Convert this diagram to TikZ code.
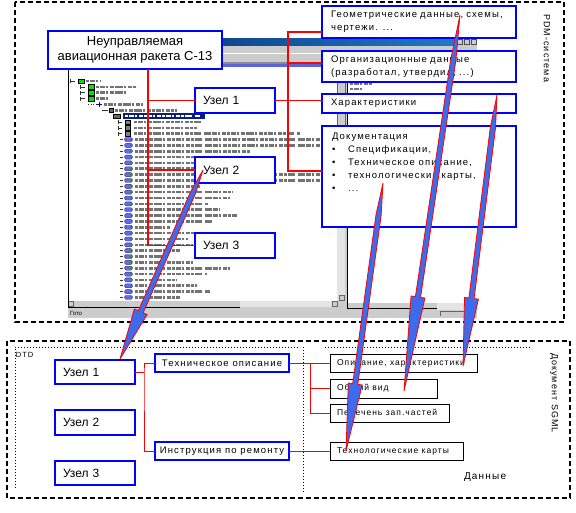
\documentclass[tikz,border=0pt]{standalone}
\usepackage{fontspec}
\setmainfont{Liberation Sans}
\newfontfamily\boxfont[LetterSpace=12]{Liberation Sans}
\usepackage{tikz}
\usetikzlibrary{calc,positioning}
\definecolor{boxBlue}{HTML}{0000FF}
\definecolor{linkRed}{HTML}{FF0000}
\definecolor{boltBlue}{HTML}{3E6BEB}
\definecolor{winGray}{HTML}{CCCCCC}
\definecolor{checkGray}{HTML}{E4E4E4}
\definecolor{titleNavy}{HTML}{08246B}
\definecolor{titleTeal}{HTML}{1E7BC4}
\definecolor{barBlue}{HTML}{5A64DC}
\definecolor{selNavy}{HTML}{0A1F80}
\newcommand{\boltarrow}[2]{%
  \filldraw[bolt] (#1)
    -- ($(#1)!0.12!(#2)!2.6pt!90:(#2)$)
    -- ($(#1)!0.75!(#2)!2.6pt!90:(#2)$)
    -- ($(#1)!0.75!(#2)!7pt!90:(#2)$)
    -- (#2)
    -- ($(#1)!0.75!(#2)!7pt!-90:(#2)$)
    -- ($(#1)!0.75!(#2)!2.6pt!-90:(#2)$)
    -- ($(#1)!0.12!(#2)!2.6pt!-90:(#2)$)
    -- cycle;}
\begin{document}
\begin{tikzpicture}[
    x=1pt, y=-1pt,
    every node/.style={inner sep=0pt, outer sep=0pt, font=\boxfont\fontsize{9.5}{13}\selectfont},
    bluebox/.style={draw=boxBlue, line width=2pt, fill=white},
    uzel/.style={bluebox, anchor=north west, text width=64pt, inner xsep=8pt, minimum height=25pt, align=left, font=\rmfamily\fontsize{12}{14}\selectfont},
    infobox/.style={bluebox, anchor=north west, text width=176pt, inner xsep=9pt, align=left},
    datbox/.style={draw=black, line width=1pt, fill=white, anchor=north west, inner xsep=7pt, minimum height=18pt, font=\boxfont\fontsize{8.5}{10}\selectfont},
    dtdbox/.style={bluebox, anchor=north west, minimum width=134pt, minimum height=18pt},
    link/.style={draw=linkRed, line width=1.6pt},
    thinlink/.style={draw=linkRed, line width=1pt},
    bolt/.style={fill=boltBlue, draw=linkRed, line width=0.8pt, line join=round},
    pdmframe/.style={draw=black, line width=1.5pt, dash pattern=on 5pt off 3pt},
    zone/.style={draw=black, line width=1pt, dash pattern=on 1pt off 2pt},
    faketext/.style={draw=black!55, line width=2.6pt, dash pattern=on 3pt off .8pt on 5pt off .8pt on 2pt off 2.2pt on 4pt off .8pt},
    treeln/.style={draw=black!80, line width=.6pt}
  ]
  \useasboundingbox[fill=white] (0,0) rectangle (576,512);

  %% screenshot of the PDM client window
  \fill[winGray] (68,38) rectangle (477,318);
  \shade[left color=titleNavy, right color=titleTeal] (68,38) rectangle (456,45);
  \foreach \bx in {457,464,471}
    \filldraw[fill=winGray, draw=black!70, line width=.4pt] (\bx,39.5) rectangle (\bx+5,44.5);
  \fill[white] (68,53) rectangle (477,54);
  \fill[black!45] (68,62) rectangle (477,63.5);
  \fill[barBlue] (68,63.5) rectangle (477,67);
  \fill[white] (68,67) rectangle (337,301);
  \fill[white] (347,67) rectangle (477,303);
  \draw[faketext] (350,83.5) -- (372,83.5);
  \draw[faketext] (350,89) -- (362,89);

  % tree: catalogue folders
  \foreach \xe/\xt/\xend [count=\i] in {70/78/100, 80/88/137, 80/88/128, 80/88/108}{
    \pgfmathsetmacro{\y}{81+(\i-1)*5.85}
    \draw[treeln] (\xe,\y-2) -- (\xe,\y+2) (\xe,\y) -- (\xe+5,\y);
    \filldraw[fill=green!90!black, draw=black, line width=.5pt] (\xt,\y-2.2) rectangle (\xt+6,\y+2.2);
    \draw[faketext] (\xt+8,\y) -- (\xend,\y);
  }
  \draw[treeln, dotted] (88,104.4) -- (96,104.4);
  \draw[draw=blue!70!black, line width=1pt] (99,102) -- (99,107) (96.5,104.4) -- (101.5,104.4);
  \draw[faketext] (104,104.4) -- (143,104.4);
  \draw[treeln] (102,110.25) -- (108,110.25);
  \filldraw[fill=black!60, draw=black, line width=.4pt] (109,108) rectangle (113,112.5);
  \draw[faketext] (115,110.25) -- (177,110.25);
  \filldraw[fill=black!60, draw=black, line width=.4pt] (113,114) rectangle (120,118.5);
  \fill[selNavy] (123,113.2) rectangle (205,119);
  \draw[faketext, draw=white] (125,116.1) -- (200,116.1);
  \foreach \xend [count=\i from 8] in {203,197,300}{
    \pgfmathsetmacro{\y}{81+(\i-1)*5.85}
    \draw[treeln] (118,\y-2) -- (118,\y+2) (118,\y) -- (122,\y);
    \filldraw[fill=black!50, draw=black, line width=.4pt] (125,\y-2.2) rectangle (130,\y+2.2);
    \draw[faketext] (134,\y) -- (\xend,\y);
  }
  % tree: parameters
  \foreach \xend [count=\i from 11] in {330,330,250,222,200,200,330,330,200,232,230,208,220,237,
      212,170,198,188,193,180,167,193,230,207,177,197,210,180}{
    \pgfmathsetmacro{\y}{81+(\i-1)*5.85}
    \draw[treeln] (120,\y) -- (123,\y);
    \filldraw[fill=blue!60, draw=black!80, line width=.4pt, rounded corners=1.5pt] (124.5,\y-2)
      rectangle (132.5,\y+2);
    \fill[green!70!black] (131,\y) circle (.9);
    \draw[faketext] (135,\y) -- (\xend,\y);
  }
  % scroll bars, status bar
  \fill[checkGray] (337,67) rectangle (345,301);
  \filldraw[fill=winGray, draw=black!60, line width=.5pt] (337,82) rectangle (345,125);
  \fill[winGray] (68,301) rectangle (240,307);
  \fill[checkGray] (240,301) rectangle (337,307);
  \foreach \bx in {68,332}
    \filldraw[fill=winGray, draw=black!60, line width=.5pt] (\bx,301) rectangle (\bx+5,306.5);
  \filldraw[fill=winGray, draw=black!60, line width=.5pt] (339,295) rectangle (344,300.5);
  \draw[black, line width=1pt] (68.5,67) -- (68.5,307.5) -- (240,307.5);
  \draw[black, line width=1pt] (347,67) -- (347,308) -- (437,308);
  \fill[checkGray] (437,303) rectangle (477,310);
  \draw[black!60, line width=.6pt] (440,316) -- (440,311) -- (476,311);
  \node[anchor=west, font=\rmfamily\fontsize{6}{7}\selectfont] (status) at (70,313) {Гото};

  %% annotation boxes
  \node[bluebox, anchor=north west, minimum width=174pt, minimum height=38pt, align=center,
        font=\rmfamily\fontsize{13}{15}\selectfont] (rocket) at (48,31) {Неуправляемая\\авиационная ракета С-13};
  \node[uzel] (uz1) at (195,88) {Узел 1};
  \node[uzel, minimum height=26pt] (uz2) at (195,157) {Узел 2};
  \node[uzel] (uz3) at (195,233) {Узел 3};
  \node[infobox, minimum height=32pt] (geom) at (322,6) {Геометрические данные, схемы,\\чертежи. ...};
  \node[infobox, minimum height=31pt] (org) at (322,51) {Организационные данные\\(разработал, утвердил, ...)};
  \node[infobox, minimum height=19pt] (char) at (322,94) {Характеристики};
  \node[infobox, minimum height=101pt] (docbox) at (322,126) {};
  \node[anchor=north west, align=left] (doctext) at (332,133) {Документация\\
    \makebox[16pt][l]{\textbullet}Спецификации,\\
    \makebox[16pt][l]{\textbullet}Техническое описание,\\
    \makebox[16pt][l]{\textbullet}технологические карты,\\
    \makebox[16pt][l]{\textbullet}...};

  %% links in the PDM part
  \coordinate (trunk) at ($(rocket.south west)+(100,0)$);
  \draw[link] (trunk) |- (uz1.west);
  \draw[link] (trunk) |- (uz2.west);
  \draw[link] (trunk) |- (uz3.west);
  \draw[link] (uz1.east) -- (uz1.east -| char.west);
  \coordinate (gJ) at ($(geom.south west)+(0,-6)$);
  \coordinate (oJ) at ($(org.south west)+(0,-19)$);
  \coordinate (dJ) at ($(docbox.north west)+(0,45)$);
  \draw[link] (gJ) -- ++(-34,0) coordinate (rtop) -- (rtop |- dJ) -- (dJ);
  \draw[link] (rtop |- oJ) -- (oJ);

  %% SGML document part
  \node[uzel, minimum height=24pt] (uzb1) at (55,360) {Узел 1};
  \node[uzel] (uzb2) at (55,410) {Узел 2};
  \node[uzel, minimum height=24pt] (uzb3) at (55,461) {Узел 3};
  \node[dtdbox] (techd) at (155,354) {Техническое описание};
  \node[dtdbox] (instr) at (155,442) {Инструкция по ремонту};
  \node[datbox] (opis) at (330,354) {\makebox[133pt][l]{Описание, характеристики}};
  \node[datbox, minimum height=19pt] (obsh) at (330,379) {\makebox[93pt][l]{Общий вид}};
  \node[datbox] (perech) at (330,404) {\makebox[105pt][l]{Перечень зап.частей}};
  \node[datbox] (tkarty) at (330,442) {\makebox[119pt][l]{Технологические карты}};
  \draw[thinlink] (uzb1.east) -- ++(9,0) coordinate (bJ);
  \draw[thinlink] (techd.west) -| (bJ) |- (instr.west);
  \draw[thinlink] (techd.east) -- ++(21,0) coordinate (tJ) |- (perech.west);
  \draw[thinlink] (tJ) -- (opis.west);
  \draw[thinlink] (tJ |- obsh.west) -- (obsh.west);
  \draw[thinlink] (instr.east) -- (tkarty.west);

  %% frames and labels
  \draw[pdmframe] (15,2) rectangle (564,322);
  \draw[pdmframe] (7,341) rectangle (570,498);
  \draw[zone] (15,488) -- (15,347) -- (300,347);
  \draw[zone] (303,347) -- (303,492);
  \draw[zone] (325,347) -- (530,347);
  \node[rotate=-90, anchor=west, font=\boxfont\fontsize{9}{11}\selectfont] (pdmlab) at (547,14) {PDM-система};
  \node[rotate=-90, anchor=west, font=\boxfont\fontsize{9}{11}\selectfont] (sgmllab) at (554,353) {Документ SGML};
  \node[anchor=west, font=\boxfont\fontsize{10}{12}\selectfont] (datlab) at (464,477) {Данные};
  \node[anchor=west, font=\boxfont\fontsize{7.5}{9}\selectfont] (dtdlab) at (16,355) {DTD};

  %% mapping arrows
  \coordinate (boltAtail) at ($(geom.north west)+(138,9)$);
  \coordinate (boltAtip) at ($(obsh.north west)+(74,12)$);
  \coordinate (boltBtail) at ($(char.north west)+(175,1)$);
  \coordinate (boltBtip) at ($(opis.north west)+(133,12)$);
  \coordinate (boltCtail) at ($(docbox.north west)+(61,57)$);
  \coordinate (boltCtip) at ($(tkarty.north west)+(16,9)$);
  \coordinate (boltDtail) at ($(uz2.west)+(8,0)$);
  \coordinate (boltDtip) at ($(uzb1.north)+(25,-1)$);
  \boltarrow{boltAtail}{boltAtip}
  \boltarrow{boltBtail}{boltBtip}
  \boltarrow{boltCtail}{boltCtip}
  \boltarrow{boltDtail}{boltDtip}
\end{tikzpicture}
\end{document}
